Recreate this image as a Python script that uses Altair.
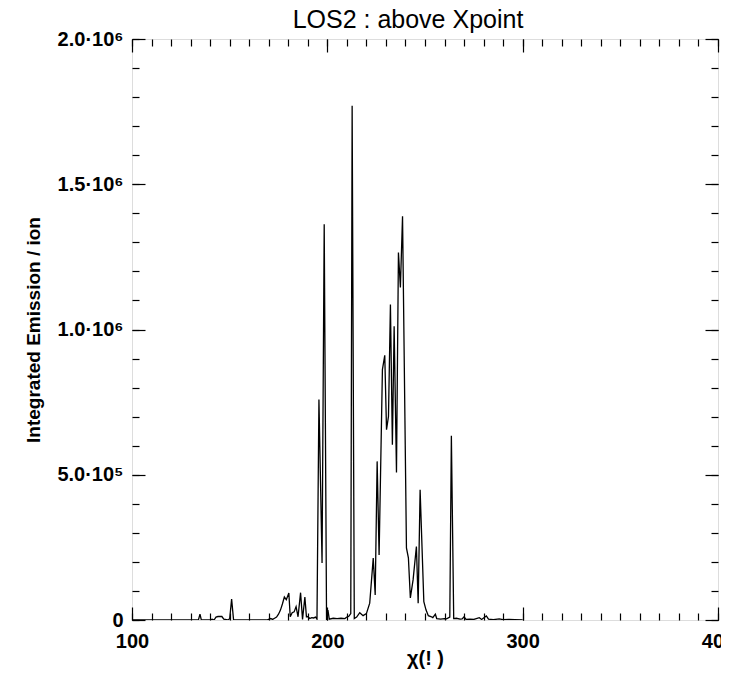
import altair as alt
import pandas as pd

# Spectrum (x in chi units, y = integrated emission / ion)
x_vals = [100, 120, 130, 134, 134.8, 135.5, 140, 141, 142, 143, 144, 146, 147, 149, 150, 151, 152,
          160, 169, 171, 172, 173, 174, 175, 176, 177, 178, 179, 180.3, 181, 182, 183, 184, 185,
          186.3, 187.3, 188.5, 189.3, 190, 191, 192, 193, 194, 194.7, 195.7, 197.3, 198.4, 199.6,
          200.3, 201, 203, 205, 207, 209, 210, 211, 212, 212.7, 213.8, 215, 216.6, 218.3, 220,
          221.7, 223.5, 224.5, 225.5, 226.5, 228.2, 229.4, 230.3, 231.3, 232.3, 233.3, 234.2,
          235.4, 236.4, 237.4, 238.5, 240.5, 241.5, 242.5, 243.9, 245.6, 246.5, 247.5, 249.4,
          250.5, 251.7, 253, 254, 255.3, 256, 258, 260, 261, 262.7, 263.5, 264.7, 266, 268, 269,
          270, 271, 273, 275, 277.8, 279, 281.4, 282.5, 285, 288, 290, 293, 296, 300]
y_thousands = [0, 0, 0, 0, 20, 0, 0, 3, 0, 10, 12, 12, 3, 0, 4, 72, 0,
               0, 0, 5, 2, 6, 10, 20, 34, 55, 79, 70, 93, 11, 25, 28, 46, 11,
               94, 2, 79, 11, 12, 5, 8, 7, 10, 3, 759, 196, 1362, 0,
               34, 3, 6, 5, 6, 5, 10, 13, 22, 1770, 5, 10, 25, 15, 22,
               58, 213, 86, 546, 224, 862, 911, 655, 701, 1086, 603, 1011,
               508, 1265, 1145, 1390, 248, 214, 76, 138, 253, 58, 448, 63,
               35, 15, 12, 8, 20, 5, 3, 5, 4, 10, 634, 5, 6, 3, 4,
               11, 2, 3, 2, 8, 2, 14, 3, 1, 4, 1, 2, 1, 0]

x_major = [100, 200, 300, 400]
x_minor = list(range(100, 401, 10))
y_major = [0, 500000, 1000000, 1500000, 2000000]
y_major_labels = ["0", "5.0·10⁵", "1.0·10⁶", "1.5·10⁶", "2.0·10⁶"]
y_minor = list(range(0, 2000001, 100000))

df = pd.DataFrame({"x": x_vals, "y": [v * 1000 for v in y_thousands]})

W, H = 586, 581
FONT = "Liberation Sans"

xs = alt.Scale(domain=[100, 400], nice=False, zero=False)
ys = alt.Scale(domain=[0, 2000000], nice=False)

label_expr = ""
for v, lab in zip(y_major, y_major_labels):
    label_expr += f"datum.value == {v} ? '{lab}' : "
label_expr += "''"

base = alt.Chart(df)

line = base.mark_line(color="black", strokeWidth=1.3, clip=True).encode(
    x=alt.X("x:Q", scale=xs, axis=alt.Axis(
        values=x_major, title="χ(! )", ticks=False, domain=False, grid=False,
        labelFlush=False, labelOverlap=False, labelBound=False,
        labelFont=FONT, labelFontSize=20, labelFontWeight="bold", labelColor="black",
        labelPadding=11, titleFont=FONT, titleFontSize=20, titleFontWeight="bold",
        titleColor="black", titlePadding=-3)),
    y=alt.Y("y:Q", scale=ys, axis=alt.Axis(
        values=y_major, labelExpr=label_expr, ticks=False, domain=False, grid=False,
        labelFlush=False, labelOverlap=False, labelBound=False,
        title="Integrated Emission / ion", labelFont=FONT, labelFontSize=20,
        labelFontWeight="bold", labelColor="black", labelPadding=9,
        titleFont=FONT, titleFontSize=19, titleFontWeight="bold", titleColor="black",
        titlePadding=13)),
)


def tick_layer(xorient, yorient, xvals, yvals, size):
    return base.mark_line(strokeOpacity=0).encode(
        x=alt.X("x:Q", scale=xs, axis=alt.Axis(
            orient=xorient, offset=-H, values=xvals, tickSize=size, labels=False,
            domain=False, grid=False, title=None, tickColor="black", tickWidth=1.2)),
        y=alt.Y("y:Q", scale=ys, axis=alt.Axis(
            orient=yorient, offset=-W, values=yvals, tickSize=size, labels=False,
            domain=False, grid=False, title=None, tickColor="black", tickWidth=1.2)),
    )


chart = alt.layer(
    line,
    tick_layer("top", "right", x_major, y_major, 13),
    tick_layer("top", "right", x_minor, y_minor, 7),
    tick_layer("bottom", "left", x_major, y_major, 13),
    tick_layer("bottom", "left", x_minor, y_minor, 7),
).resolve_axis(x="independent", y="independent").properties(
    width=W, height=H,
    padding={"left": 124, "top": 31, "right": 3, "bottom": 50},
    autosize=alt.AutoSizeParams(type="none"),
    title=alt.Title("LOS2 : above Xpoint", font=FONT, fontSize=25, fontWeight="normal",
                    color="black", anchor="middle", dx=-17, offset=-4),
).configure_view(stroke="black", strokeWidth=1.3).configure(background="white")

chart.save("out.html", embed_options={"renderer": "svg", "actions": False})
